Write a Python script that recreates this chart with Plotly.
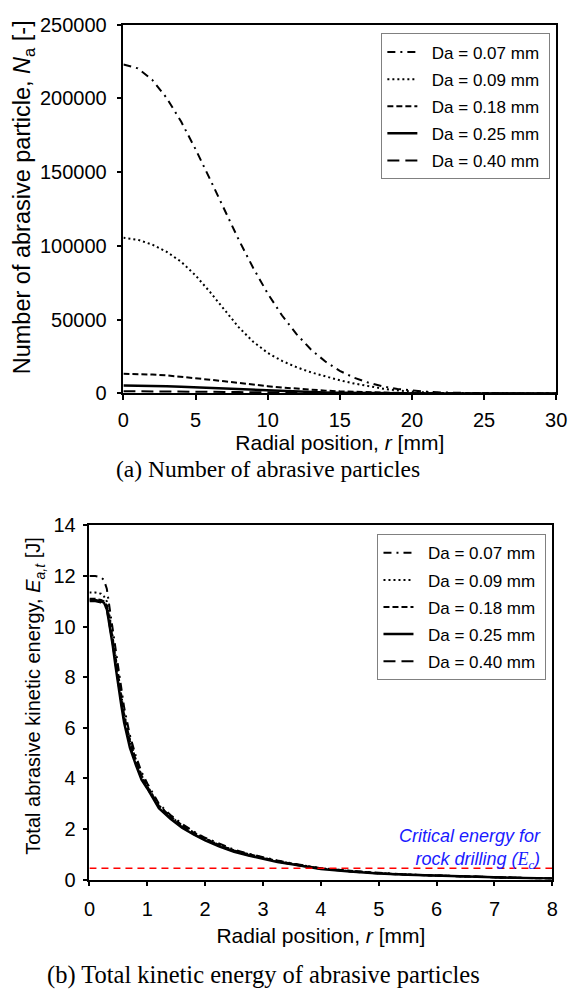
import plotly.graph_objects as go

# ---------------- data: (a) number of abrasive particles ----------------
r_a = list(range(0, 31))
labels = ["Da = 0.07 mm", "Da = 0.09 mm", "Da = 0.18 mm", "Da = 0.25 mm", "Da = 0.40 mm"]

N_007 = [223000, 220400, 212600, 200300, 184300, 165600, 145300, 124400, 104100, 85000,
         67800, 52800, 40200, 29800, 21600, 15300, 10600, 7200, 4700, 3000,
         1900, 1200, 700, 400, 200, 100, 50, 20, 0, 0, 0]
N_009 = [105500, 104200, 100900, 96000, 89300, 80000, 68800, 56800, 44800, 35000,
         27500, 22000, 17800, 14300, 11400, 8900, 6700, 4800, 3200, 2000,
         1100, 600, 300, 150, 70, 30, 0, 0, 0, 0, 0]
N_018 = [13300, 13200, 12800, 12200, 11400, 10400, 9300, 8200, 7000, 5900,
         4900, 4000, 3200, 2500, 1900, 1400, 1000, 700, 500, 300,
         200, 100, 60, 30, 10, 0, 0, 0, 0, 0, 0]
N_025 = [5300, 5250, 5100, 4850, 4500, 4100, 3650, 3200, 2700, 2200,
         1800, 1400, 1100, 800, 600, 450, 300, 200, 130, 80,
         50, 30, 20, 10, 0, 0, 0, 0, 0, 0, 0]
N_040 = [1500, 1490, 1450, 1400, 1320, 1230, 1120, 1000, 880, 760,
         640, 530, 430, 340, 260, 200, 150, 110, 80, 50,
         30, 20, 10, 0, 0, 0, 0, 0, 0, 0, 0]

# ---------------- data: (b) total kinetic energy ----------------
r_b = [0, 0.1, 0.2, 0.25, 0.3, 0.35, 0.4, 0.45, 0.5, 0.55, 0.6, 0.7, 0.8, 0.9, 1.0,
       1.2, 1.4, 1.6, 1.8, 2.0, 2.25, 2.5, 2.75, 3.0, 3.25, 3.5, 3.75, 4.0,
       4.5, 5.0, 5.5, 6.0, 6.5, 7.0, 7.5, 8.0]
E_007 = [12.0, 12.0, 11.95, 11.85, 11.5, 10.7, 9.9, 9.1, 8.2, 7.5, 6.8, 5.7, 4.9, 4.25, 3.8,
         3.0, 2.55, 2.2, 1.9, 1.65, 1.4, 1.18, 1.02, 0.88, 0.75, 0.64, 0.54, 0.45,
         0.34, 0.26, 0.2, 0.16, 0.12, 0.09, 0.06, 0.04]
E_009 = [11.35, 11.35, 11.3, 11.2, 11.0, 10.4, 9.6, 8.8, 8.0, 7.25, 6.55, 5.5, 4.75, 4.12, 3.7,
         2.93, 2.5, 2.14, 1.86, 1.62, 1.36, 1.15, 0.99, 0.86, 0.73, 0.63, 0.53, 0.44,
         0.33, 0.25, 0.2, 0.15, 0.12, 0.09, 0.06, 0.04]
E_018 = [11.1, 11.1, 11.05, 11.0, 10.85, 10.3, 9.55, 8.75, 7.95, 7.2, 6.5, 5.5, 4.72, 4.1, 3.68,
         2.92, 2.5, 2.14, 1.86, 1.62, 1.36, 1.15, 0.99, 0.86, 0.73, 0.62, 0.52, 0.44,
         0.33, 0.25, 0.19, 0.15, 0.12, 0.09, 0.06, 0.04]
E_025 = [11.05, 11.05, 11.0, 10.95, 10.7, 10.05, 9.3, 8.45, 7.6, 6.9, 6.2, 5.2, 4.55, 3.95, 3.6,
         2.82, 2.4, 2.05, 1.78, 1.55, 1.3, 1.1, 0.95, 0.82, 0.69, 0.6, 0.5, 0.42,
         0.32, 0.24, 0.19, 0.15, 0.12, 0.09, 0.06, 0.04]
E_040 = [11.0, 11.0, 10.95, 10.9, 10.7, 10.1, 9.35, 8.55, 7.7, 7.0, 6.3, 5.3, 4.6, 4.0, 3.62,
         2.86, 2.43, 2.08, 1.8, 1.57, 1.32, 1.12, 0.96, 0.83, 0.7, 0.6, 0.51, 0.43,
         0.32, 0.24, 0.19, 0.15, 0.12, 0.09, 0.06, 0.04]
E_critical = 0.45

N_series = [N_007, N_009, N_018, N_025, N_040]
E_series = [E_007, E_009, E_018, E_025, E_040]
dashes = ["8px,5px,2px,5px", "2px,3px", "6px,3px", "solid", "12px,6px"]
widths = [2, 2, 2, 2.5, 2]

SANS = "Liberation Sans, Arial, sans-serif"
SERIF = "Liberation Serif, Times New Roman, serif"
PRE = "\u00a0\u00a0"
PAD = "\u00a0"

fig = go.Figure()
for i in range(5):
    fig.add_trace(go.Scatter(x=r_a, y=N_series[i], mode="lines", name=PRE + labels[i] + PAD,
                             line=dict(color="black", dash=dashes[i], width=widths[i]),
                             xaxis="x", yaxis="y", legend="legend",
                             legendgroup="a%d" % i))
for i in range(5):
    fig.add_trace(go.Scatter(x=r_b, y=E_series[i], mode="lines", name=PRE + labels[i] + PAD,
                             line=dict(color="black", dash=dashes[i], width=widths[i]),
                             xaxis="x2", yaxis="y2", legend="legend2",
                             legendgroup="b%d" % i))
fig.add_trace(go.Scatter(x=[0, 8], y=[E_critical, E_critical], mode="lines",
                         line=dict(color="red", dash="7px,5px", width=1.5),
                         xaxis="x2", yaxis="y2", showlegend=False))

W, H = 573, 1003
def px_x(p):
    return p / W
def px_y(p):
    return 1 - p / H

TOP_L, TOP_R, TOP_T, TOP_B = 121, 567, 14, 391
BOT_L, BOT_R, BOT_T, BOT_B = 86, 563, 526, 888

axis_common = dict(showline=True, linecolor="black", linewidth=1.5, mirror=True,
                   ticks="outside", ticklen=5, tickcolor="black", tickwidth=1.5,
                   showgrid=False, zeroline=False,
                   tickfont=dict(family=SANS, size=20, color="black"))

legend_common = dict(xanchor="right", yanchor="top",
                     bgcolor="white", bordercolor="#808080", borderwidth=1,
                     font=dict(family=SANS, size=17, color="black"),
                     tracegroupgap=2, itemwidth=30)

fig.update_layout(
    width=W, height=H,
    margin=dict(l=0, r=0, t=0, b=0),
    paper_bgcolor="white", plot_bgcolor="white",
    xaxis=dict(domain=[px_x(TOP_L), px_x(TOP_R)], range=[0, 30], dtick=5,
               anchor="y", ticklabelstandoff=3,
               title=dict(text="Radial position, <i>r</i> [mm]", standoff=4,
                          font=dict(family=SANS, size=21, color="black")),
               **axis_common),
    yaxis=dict(domain=[px_y(TOP_B), px_y(TOP_T)], range=[0, 250000], dtick=50000,
               anchor="x", tickformat="d", ticklabelstandoff=6,
               **axis_common),
    xaxis2=dict(domain=[px_x(BOT_L), px_x(BOT_R)], range=[0, 8], dtick=1,
                anchor="y2", ticklabelstandoff=6,
                title=dict(text="Radial position, <i>r</i> [mm]", standoff=9,
                           font=dict(family=SANS, size=21, color="black")),
                **axis_common),
    yaxis2=dict(domain=[px_y(BOT_B), px_y(BOT_T)], range=[0, 14], dtick=2,
                anchor="x2", ticklabelstandoff=3,
                **axis_common),
    legend=dict(x=px_x(TOP_R - 6), y=px_y(TOP_T + 9), **legend_common),
    legend2=dict(x=px_x(BOT_R - 6), y=px_y(BOT_T + 9), **legend_common),
    annotations=[
        dict(text="Number of abrasive particle, <i>N</i><sub>a</sub> [-]",
             x=px_x(18), y=px_y(190), xref="paper", yref="paper", showarrow=False,
             textangle=-90, xanchor="center", yanchor="middle",
             font=dict(family=SANS, size=23.5, color="black")),
        dict(text="Total abrasive kinetic energy, <i>E</i><sub><i>a,t</i></sub> [J]",
             x=px_x(30), y=px_y(700), xref="paper", yref="paper", showarrow=False,
             textangle=-90, xanchor="center", yanchor="middle",
             font=dict(family=SANS, size=20, color="black")),
        dict(text="(a) Number of abrasive particles", x=0.471, y=px_y(468),
             xref="paper", yref="paper", showarrow=False, xanchor="center", yanchor="middle",
             font=dict(family=SERIF, size=23.5, color="black")),
        dict(text="(b) Total kinetic energy of abrasive particles", x=0.4625, y=px_y(986),
             xref="paper", yref="paper", showarrow=False, xanchor="center", yanchor="middle",
             font=dict(family=SERIF, size=24.5, color="black")),
        dict(text="<i>Critical energy for<br>rock drilling (</i><span style=\"font-family:'Liberation Serif'\"><i>E<sub>c</sub></i></span><i>)</i>",
             x=px_x(BOT_R - 10), y=px_y(857), xref="paper", yref="paper", showarrow=False,
             xanchor="right", yanchor="middle", align="right",
             font=dict(family=SANS, size=18, color="#1a1aff")),
    ],
)

fig.write_html("out.html")
